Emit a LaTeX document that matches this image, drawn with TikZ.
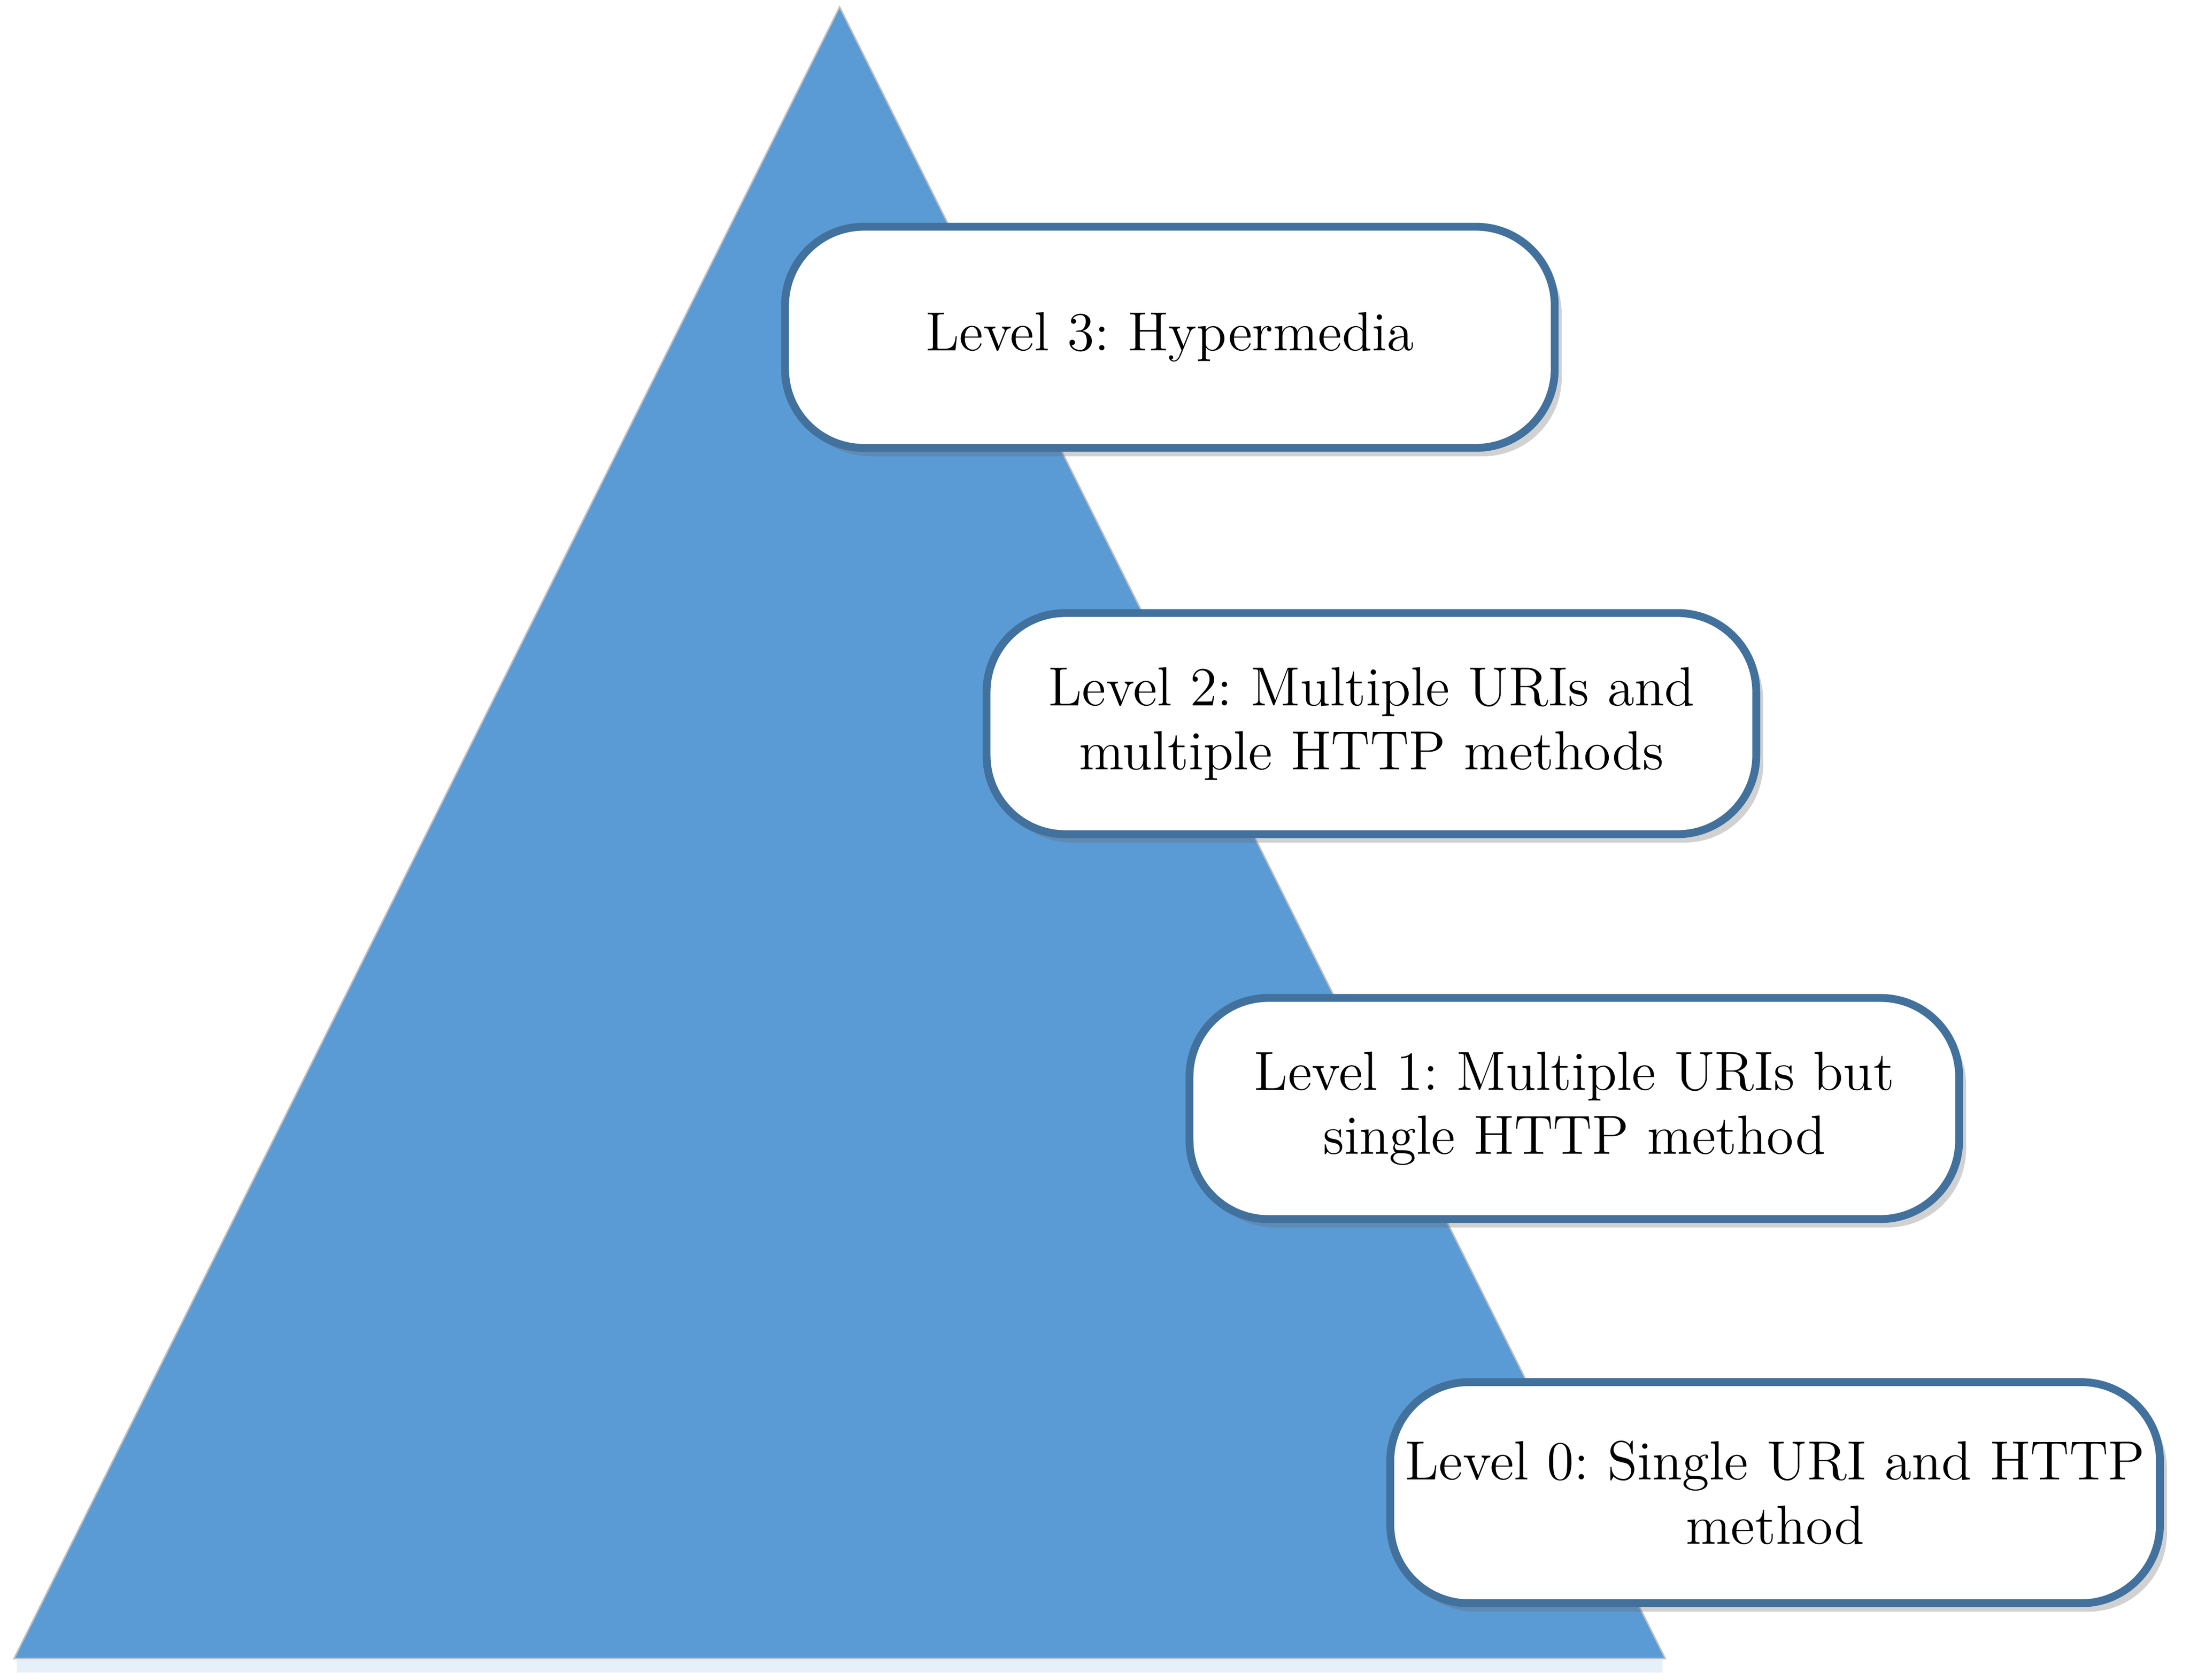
\documentclass[tikz,border=0pt]{standalone}
\usepackage{xcolor}
\usepackage{tikz}
\usetikzlibrary{shapes.geometric, positioning, shadows}
\definecolor{pyramidblue}{RGB}{91, 155, 213}
\definecolor{levelborder}{RGB}{65, 113, 156}
\frenchspacing

\begin{document}
\begin{tikzpicture}[
    level/.style={draw=levelborder, line width=1.6pt, fill=white, rounded corners=16pt,
        minimum width=5.5cm, minimum height=1.58cm, inner xsep=0pt, text width=5.5cm, align=center,
        font=\fontsize{11.2}{13}\selectfont,
        drop shadow={shadow xshift=0.05cm, shadow yshift=-0.06cm, opacity=0.3, fill=black!60}},
    pyramid/.style={fill=pyramidblue, draw=black!25, line width=0.3pt}
]
    \useasboundingbox (0, 0) rectangle (15.65, -12.0033);

    % Pyramid
    \fill[pyramidblue!30, opacity=0.5] (0.12, -11.86) rectangle (11.88, -11.95);
    \draw[pyramid] (0.1, -11.85) -- (6.0, -0.05) -- (11.9, -11.85) -- cycle;

    % Levels
    \node[level] (lvl3) at (8.36, -2.41) {Level 3: Hypermedia};
    \node[level] (lvl2) at (9.80, -5.17) {Level 2: Multiple URIs and\\ multiple HTTP methods};
    \node[level] (lvl1) at (11.25, -7.92) {Level 1: Multiple URIs but\\ single HTTP method};
    \node[level] (lvl0) at (12.685, -10.665) {Level 0: Single URI and HTTP\\ method};

\end{tikzpicture}
\end{document}
